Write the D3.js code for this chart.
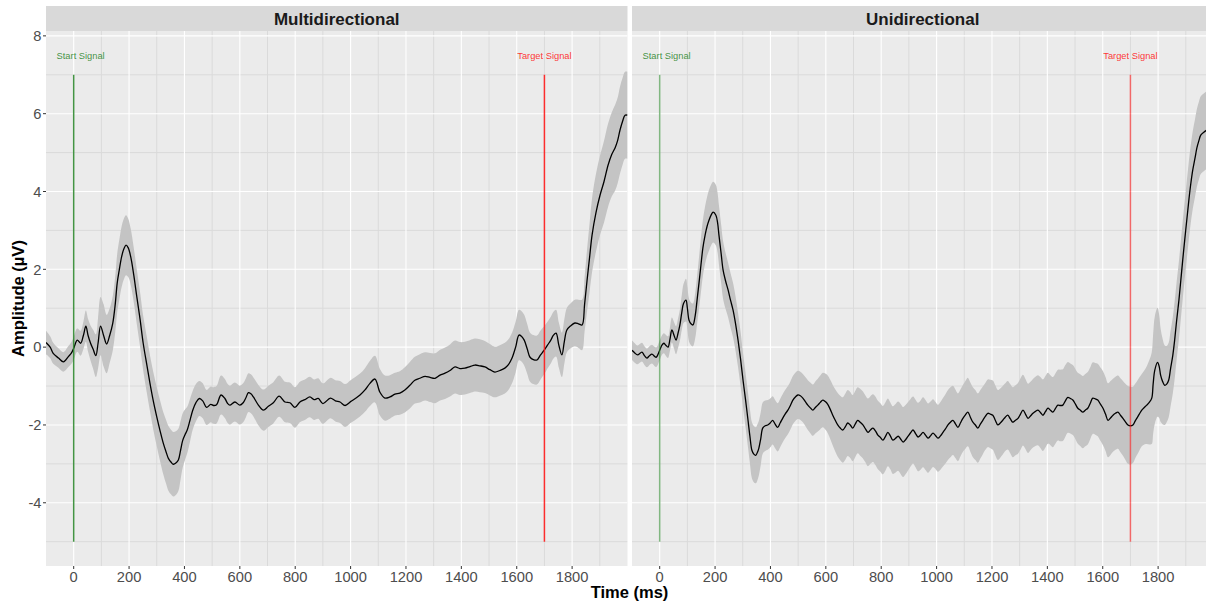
<!DOCTYPE html>
<html><head><meta charset="utf-8">
<script src="https://cdn.jsdelivr.net/npm/d3@7"></script>
<style>
body{margin:0;background:#fff}
text{font-family:"Liberation Sans",Arial,sans-serif}
</style>
</head><body>
<svg id="chart" width="1206" height="605"></svg>
<script>
// ---------------- data ----------------
const panelNames = ["Multidirectional", "Unidirectional"];
const xTicks = [0, 200, 400, 600, 800, 1000, 1200, 1400, 1600, 1800];
const xMinorTicks = [100, 300, 500, 700, 900, 1100, 1300, 1500, 1700, 1900];
const yTicks = [-4, -2, 0, 2, 4, 6, 8];
const yMinorTicks = [-5, -3, -1, 1, 3, 5, 7];
const signalTimes = [0, 1700];
const signalLabelTimes = [25, 1700];
const signalLabels = ["Start Signal", "Target Signal"];

const multiTime = [-100,-85,-74,-55,-37,-20,-8,0,13,25,35,44,52,61,70,80,88,97,108,119,130,141,150,157,165,173,181,189,197,206,217,228,240,251,264,276,288,300,312,324,334,342,352,360,369,378,386,394,402,410,420,430,442,454,466,480,495,505,516,532,546,556,564,582,600,612,622,631,640,649,667,685,703,721,742,763,781,799,817,835,853,868,883,900,927,945,962,980,1000,1017,1034,1052,1070,1088,1106,1124,1142,1160,1178,1196,1214,1232,1250,1269,1287,1305,1323,1341,1359,1377,1395,1413,1431,1449,1467,1485,1503,1521,1539,1557,1570,1583,1596,1608,1617,1627,1638,1648,1660,1673,1686,1699,1711,1723,1732,1742,1752,1763,1772,1781,1795,1810,1823,1836,1845,1854,1863,1872,1886,1901,1915,1930,1943,1955,1964,1973,1982,1991,2000];
const multiMean = [0.12,0.0,-0.16,-0.28,-0.38,-0.25,-0.15,-0.03,0.18,0.1,0.3,0.54,0.3,0.1,-0.05,-0.22,0.1,0.54,0.3,0.08,0.3,0.61,1.1,1.64,2.0,2.32,2.52,2.62,2.55,2.32,1.85,1.29,0.7,0.1,-0.45,-0.95,-1.4,-1.79,-2.15,-2.48,-2.7,-2.86,-2.96,-3.01,-2.98,-2.9,-2.65,-2.39,-2.25,-2.13,-1.88,-1.62,-1.42,-1.32,-1.38,-1.55,-1.47,-1.5,-1.48,-1.23,-1.32,-1.45,-1.49,-1.41,-1.49,-1.43,-1.3,-1.17,-1.2,-1.28,-1.49,-1.62,-1.52,-1.43,-1.26,-1.41,-1.43,-1.55,-1.41,-1.35,-1.28,-1.35,-1.32,-1.45,-1.31,-1.38,-1.41,-1.5,-1.4,-1.32,-1.23,-1.1,-0.93,-0.82,-1.16,-1.31,-1.28,-1.21,-1.18,-1.1,-0.98,-0.85,-0.8,-0.75,-0.78,-0.8,-0.72,-0.67,-0.6,-0.51,-0.55,-0.54,-0.5,-0.46,-0.48,-0.51,-0.58,-0.64,-0.6,-0.54,-0.45,-0.28,0.0,0.31,0.28,0.18,-0.05,-0.26,-0.32,-0.33,-0.2,-0.08,0.05,0.18,0.3,0.36,0.05,-0.2,0.15,0.44,0.55,0.62,0.6,0.57,1.1,1.72,2.3,2.88,3.45,3.91,4.25,4.68,4.95,5.12,5.3,5.58,5.8,5.96,5.96];
const multiSE = [0.3,0.28,0.27,0.25,0.25,0.27,0.28,0.3,0.3,0.32,0.35,0.4,0.42,0.45,0.5,0.55,0.65,0.75,0.8,0.75,0.7,0.7,0.72,0.75,0.77,0.78,0.78,0.77,0.75,0.72,0.7,0.7,0.7,0.7,0.72,0.72,0.74,0.76,0.78,0.8,0.82,0.83,0.83,0.83,0.82,0.8,0.75,0.7,0.65,0.6,0.55,0.5,0.48,0.45,0.45,0.45,0.46,0.47,0.48,0.5,0.5,0.5,0.5,0.5,0.5,0.5,0.5,0.5,0.5,0.5,0.52,0.53,0.53,0.53,0.53,0.52,0.52,0.52,0.52,0.52,0.52,0.52,0.52,0.52,0.52,0.53,0.54,0.55,0.55,0.55,0.55,0.56,0.58,0.6,0.6,0.58,0.56,0.55,0.56,0.58,0.6,0.6,0.62,0.62,0.63,0.64,0.65,0.66,0.67,0.68,0.68,0.68,0.68,0.68,0.68,0.67,0.66,0.65,0.65,0.65,0.65,0.65,0.65,0.65,0.65,0.65,0.64,0.63,0.63,0.63,0.63,0.62,0.6,0.6,0.6,0.6,0.58,0.57,0.57,0.57,0.58,0.6,0.62,0.65,0.7,0.8,0.88,0.95,1.0,1.02,1.05,1.07,1.08,1.1,1.1,1.12,1.12,1.12,1.12];

const uniTime = [-100,-90,-80,-64,-55,-46,-37,-28,-13,0,
  8,15,22,30,37,44,52,59,66,73,
  80,86,95,100,106,113,120,128,135,142,
  149,156,164,171,178,186,193,203,209,214,
  222,229,238,247,256,265,274,283,292,301,
  310,319,326,333,340,347,353,358,365,372,
  381,390,399,408,417,426,435,444,453,463,
  472,481,490,499,508,517,526,535,544,553,
  562,571,580,589,598,607,616,625,634,643,
  652,661,670,679,688,697,706,715,724,734,
  743,752,761,770,779,788,797,806,815,824,
  833,842,851,861,870,879,888,897,906,915,
  924,933,942,951,960,969,978,987,996,1005,
  1014,1023,1032,1041,1050,1059,1068,1077,1086,1095,
  1104,1113,1122,1131,1140,1149,1158,1167,1176,1185,
  1194,1203,1212,1221,1230,1239,1248,1257,1266,1275,
  1285,1294,1303,1312,1321,1330,1339,1348,1357,1366,
  1375,1384,1393,1402,1411,1420,1429,1438,1447,1456,
  1465,1474,1483,1492,1501,1510,1519,1528,1537,1546,
  1555,1564,1573,1582,1591,1601,1610,1619,1628,1637,
  1646,1655,1664,1673,1682,1691,1700,1709,1717,1723,
  1732,1741,1750,1759,1768,1777,1782,1788,1798,1804,
  1809,1816,1824,1831,1838,1845,1853,1860,1867,1875,
  1882,1889,1896,1904,1911,1918,1925,1933,1940,1947,
  1954,1965,1976,1990,2000];
const uniMean = [-0.08,-0.15,-0.2,-0.13,-0.22,-0.28,-0.22,-0.18,-0.26,-0.08,
  0.05,0.1,0.05,0.0,0.2,0.44,0.3,0.18,0.35,0.57,
  0.9,1.12,1.21,1.0,0.69,0.6,0.57,0.8,1.21,1.65,
  2.11,2.55,2.88,3.1,3.26,3.4,3.47,3.39,3.2,2.88,
  2.4,1.98,1.7,1.47,1.2,0.95,0.6,0.18,-0.3,-0.85,
  -1.35,-1.88,-2.3,-2.65,-2.75,-2.78,-2.7,-2.6,-2.35,-2.08,
  -2.02,-2.0,-1.95,-1.88,-1.98,-2.06,-1.95,-1.83,-1.72,-1.62,
  -1.5,-1.36,-1.28,-1.23,-1.25,-1.31,-1.4,-1.49,-1.56,-1.62,
  -1.55,-1.49,-1.42,-1.36,-1.4,-1.47,-1.6,-1.75,-1.88,-2.0,
  -2.08,-2.13,-2.05,-1.95,-2.0,-2.08,-1.98,-1.88,-1.93,-2.0,
  -2.1,-2.19,-2.13,-2.08,-2.15,-2.26,-2.32,-2.39,-2.3,-2.19,
  -2.28,-2.39,-2.35,-2.29,-2.36,-2.44,-2.38,-2.29,-2.2,-2.13,
  -2.22,-2.31,-2.26,-2.19,-2.26,-2.34,-2.28,-2.21,-2.27,-2.34,
  -2.28,-2.19,-2.1,-2.0,-1.93,-1.88,-1.97,-2.06,-1.95,-1.83,
  -1.74,-1.67,-1.8,-1.93,-2.0,-2.08,-1.98,-1.88,-1.78,-1.7,
  -1.72,-1.75,-1.88,-2.0,-1.95,-1.88,-1.8,-1.75,-1.84,-1.93,
  -1.88,-1.83,-1.72,-1.62,-1.72,-1.83,-1.77,-1.7,-1.65,-1.62,
  -1.68,-1.75,-1.66,-1.57,-1.62,-1.67,-1.58,-1.49,-1.5,-1.49,
  -1.38,-1.29,-1.32,-1.36,-1.46,-1.57,-1.62,-1.67,-1.62,-1.57,
  -1.44,-1.31,-1.33,-1.36,-1.46,-1.57,-1.72,-1.88,-1.82,-1.75,
  -1.7,-1.67,-1.75,-1.83,-1.92,-2.0,-2.02,-2.0,-1.9,-1.83,
  -1.72,-1.62,-1.55,-1.49,-1.42,-1.31,-0.95,-0.59,-0.39,-0.5,
  -0.72,-0.88,-0.98,-0.95,-0.85,-0.55,-0.21,0.2,0.69,1.2,
  1.72,2.25,2.75,3.3,3.78,4.2,4.55,4.85,5.12,5.3,
  5.45,5.52,5.58,5.65,5.7];
const uniSE = [0.25,0.25,0.24,0.24,0.24,0.24,0.24,0.24,0.25,0.25,
  0.25,0.26,0.27,0.28,0.3,0.32,0.34,0.36,0.38,0.4,
  0.45,0.5,0.55,0.55,0.55,0.55,0.55,0.58,0.62,0.66,
  0.7,0.72,0.74,0.76,0.78,0.78,0.78,0.78,0.77,0.76,
  0.75,0.74,0.72,0.7,0.7,0.7,0.7,0.7,0.7,0.7,
  0.7,0.7,0.7,0.72,0.72,0.72,0.72,0.7,0.68,0.66,
  0.65,0.64,0.63,0.62,0.62,0.62,0.62,0.62,0.62,0.62,
  0.62,0.62,0.62,0.62,0.62,0.62,0.63,0.64,0.65,0.66,
  0.67,0.68,0.69,0.7,0.72,0.74,0.76,0.78,0.8,0.82,
  0.83,0.84,0.85,0.85,0.85,0.85,0.85,0.85,0.86,0.86,
  0.86,0.87,0.87,0.87,0.88,0.88,0.88,0.88,0.88,0.87,
  0.86,0.87,0.88,0.89,0.9,0.9,0.89,0.88,0.87,0.86,
  0.87,0.88,0.89,0.9,0.9,0.89,0.88,0.87,0.86,0.86,
  0.87,0.88,0.89,0.9,0.9,0.89,0.88,0.87,0.86,0.86,
  0.87,0.88,0.89,0.9,0.9,0.89,0.88,0.87,0.86,0.87,
  0.88,0.89,0.9,0.9,0.89,0.88,0.87,0.88,0.89,0.9,
  0.9,0.91,0.92,0.91,0.9,0.89,0.88,0.88,0.89,0.9,
  0.91,0.92,0.92,0.91,0.9,0.9,0.9,0.91,0.92,0.92,
  0.92,0.91,0.9,0.9,0.9,0.91,0.92,0.93,0.93,0.93,
  0.92,0.92,0.92,0.93,0.94,0.95,0.95,0.95,0.95,0.94,
  0.94,0.94,0.95,0.96,0.98,1.0,1.0,0.98,0.96,0.95,
  0.94,0.93,0.95,1.0,1.08,1.18,1.28,1.38,1.4,1.32,
  1.2,1.1,1.02,0.98,0.96,0.97,0.98,1.0,1.0,1.0,
  1.0,1.0,1.0,1.0,1.0,1.0,1.0,1.0,1.0,1.0,
  1.0,1.0,1.0,1.0,1.0];

const seriesByPanel = [
  {time: multiTime, mean: multiMean, se: multiSE, sigOpacity: 0.9},
  {time: uniTime, mean: uniMean, se: uniSE, sigOpacity: 0.6}
];

// ---------------- layout ----------------
const svg = d3.select("#chart");
const panelLeft = [46, 632];
const panelW = 581.5;
const panelTop = 31, panelBottom = 566;
const stripTop = 6;

const y = d3.scaleLinear().domain([-5.625, 8.125]).range([panelBottom, panelTop]);

svg.append("defs").selectAll("clipPath").data(panelLeft).join("clipPath")
  .attr("id", (d, i) => "clip" + i)
  .append("rect").attr("x", d => d).attr("y", panelTop).attr("width", panelW).attr("height", panelBottom - panelTop);

panelNames.forEach((name, pi) => {
  const x0 = panelLeft[pi];
  const x = d3.scaleLinear().domain([-100, 2000]).range([x0, x0 + panelW]);
  const s = seriesByPanel[pi];
  const g = svg.append("g");

  // strip
  g.append("rect").attr("x", x0).attr("y", stripTop).attr("width", panelW).attr("height", panelTop - stripTop).attr("fill", "#d9d9d9");
  g.append("text").attr("x", x0 + panelW / 2).attr("y", 25).attr("text-anchor", "middle")
    .attr("font-size", "17px").attr("font-weight", "bold").attr("fill", "#1a1a1a").text(name);

  // panel bg
  g.append("rect").attr("x", x0).attr("y", panelTop).attr("width", panelW).attr("height", panelBottom - panelTop).attr("fill", "#ebebeb");

  const pg = g.append("g").attr("clip-path", `url(#clip${pi})`);
  // minor grid (darker)
  pg.selectAll(".vmin").data(xMinorTicks).join("line")
    .attr("x1", d => x(d)).attr("x2", d => x(d)).attr("y1", panelTop).attr("y2", panelBottom)
    .attr("stroke", "#dadada").attr("stroke-width", 1);
  pg.selectAll(".hmin").data(yMinorTicks).join("line")
    .attr("x1", x0).attr("x2", x0 + panelW).attr("y1", d => y(d)).attr("y2", d => y(d))
    .attr("stroke", "#dadada").attr("stroke-width", 1);
  // major grid
  pg.selectAll(".vmaj").data(xTicks).join("line")
    .attr("x1", d => x(d)).attr("x2", d => x(d)).attr("y1", panelTop).attr("y2", panelBottom)
    .attr("stroke", "#ffffff").attr("stroke-width", 1.1);
  pg.selectAll(".hmaj").data(yTicks).join("line")
    .attr("x1", x0).attr("x2", x0 + panelW).attr("y1", d => y(d)).attr("y2", d => y(d))
    .attr("stroke", "#ffffff").attr("stroke-width", 1.1);

  const n = Math.min(s.time.length, s.mean.length, s.se.length);
  const idx = d3.range(n);
  const area = d3.area()
    .x(i => x(s.time[i]))
    .y0(i => y(s.mean[i] - s.se[i]))
    .y1(i => y(s.mean[i] + s.se[i]))
    .curve(d3.curveCatmullRom.alpha(0.5));
  pg.append("path").datum(idx).attr("d", area).attr("fill", "#c4c4c4");

  const line = d3.line().x(i => x(s.time[i])).y(i => y(s.mean[i])).curve(d3.curveCatmullRom.alpha(0.5));
  pg.append("path").datum(idx).attr("d", line).attr("fill", "none").attr("stroke", "#000").attr("stroke-width", 1.3);

  // signals
  const sigColors = ["#2f882f", "#ff1a1a"];
  signalTimes.forEach((t, k) => {
    pg.append("line").attr("x1", x(t)).attr("x2", x(t)).attr("y1", y(7)).attr("y2", y(-5))
      .attr("stroke", sigColors[k]).attr("stroke-opacity", s.sigOpacity).attr("stroke-width", 1.5);
    pg.append("text").attr("x", x(signalLabelTimes[k])).attr("y", y(7.5)).attr("dy", "0.35em").attr("text-anchor", "middle")
      .attr("font-size", "9.3px").attr("fill", sigColors[k]).attr("fill-opacity", 0.9).text(signalLabels[k]);
  });

  // x axis ticks
  g.selectAll(".xt").data(xTicks).join("line")
    .attr("x1", d => x(d)).attr("x2", d => x(d)).attr("y1", panelBottom).attr("y2", panelBottom + 3)
    .attr("stroke", "#333").attr("stroke-width", 1);
  g.selectAll(".xl").data(xTicks).join("text")
    .attr("x", d => x(d)).attr("y", 582.3).attr("text-anchor", "middle")
    .attr("font-size", "14.7px").attr("fill", "#4d4d4d").text(d => d);
});

// y axis
svg.selectAll(".yt").data(yTicks).join("line")
  .attr("x1", 43).attr("x2", 46).attr("y1", d => y(d)).attr("y2", d => y(d))
  .attr("stroke", "#333").attr("stroke-width", 1);
svg.selectAll(".yl").data(yTicks).join("text")
  .attr("x", 41.5).attr("y", d => y(d)).attr("dy", "0.36em").attr("text-anchor", "end")
  .attr("font-size", "14.7px").attr("fill", "#4d4d4d").text(d => d);

// axis titles
svg.append("text").attr("x", 629.5).attr("y", 598).attr("text-anchor", "middle")
  .attr("font-size", "16.5px").attr("font-weight", "bold").attr("fill", "#000").text("Time (ms)");
svg.append("text").attr("transform", `translate(23.5,${(panelTop + panelBottom) / 2}) rotate(-90)`)
  .attr("text-anchor", "middle").attr("font-size", "16.5px").attr("font-weight", "bold").attr("fill", "#000").text("Amplitude (µV)");
</script>
</body></html>
